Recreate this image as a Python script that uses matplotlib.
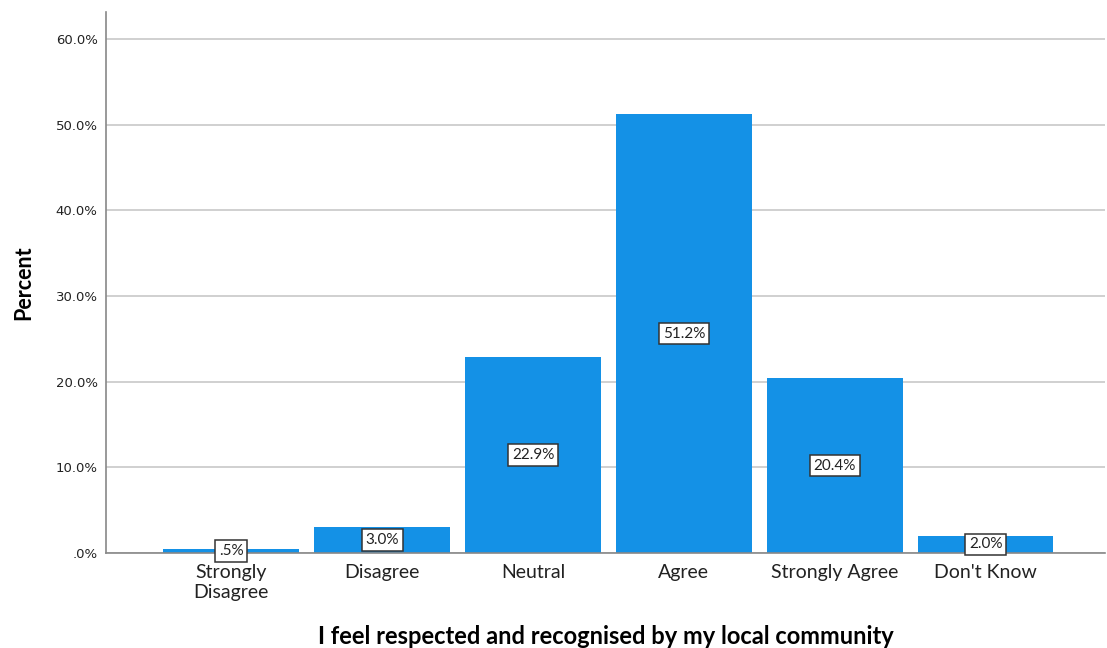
import numpy as np
import matplotlib.pyplot as plt
from matplotlib.ticker import FuncFormatter

categories = ["Strongly\nDisagree", "Disagree", "Neutral", "Agree", "Strongly Agree", "Don't Know"]
percent = [0.5, 3.0, 22.9, 51.2, 20.4, 2.0]
yticks = [0, 10, 20, 30, 40, 50, 60]


def pct_label(v):
    s = "%.1f%%" % v
    return s[1:] if s.startswith("0") else s


fig = plt.figure(figsize=(11.07, 6.48), dpi=100)
ax = fig.add_axes([0.0958, 0.1466, 0.9022, 0.835])

x = np.arange(len(categories))
bars = ax.bar(x, percent, width=0.9, color="#1491e6", zorder=2)

for b, v in zip(bars, percent):
    ax.text(b.get_x() + b.get_width() / 2, v / 2, pct_label(v),
            ha="center", va="center", fontsize=11, family="Lato", color="#222222",
            bbox=dict(boxstyle="square,pad=0.25", fc="white", ec="#333333", lw=1.1),
            zorder=3)

ax.set_xlim(-0.83, 5.79)
ax.set_ylim(0, 63.15)
ax.set_yticks(yticks)
ax.yaxis.set_major_formatter(FuncFormatter(lambda v, p: pct_label(v)))
ax.grid(axis="y", color="#c8c8c8", lw=1.2, zorder=0)
ax.tick_params(axis="y", length=0, labelsize=9.5, pad=6, colors="#222222")
ax.tick_params(axis="x", length=0, pad=8)
ax.set_xticks(x)
ax.set_xticklabels(categories, fontsize=14, family="Lato", color="#222222", linespacing=1.2)

for s in ["top", "right"]:
    ax.spines[s].set_visible(False)
ax.spines["left"].set_color("#888888")
ax.spines["left"].set_linewidth(1.2)
ax.spines["bottom"].set_color("#888888")
ax.spines["bottom"].set_linewidth(1.2)

ax.set_ylabel("Percent", fontsize=15.5, fontweight="bold", family="Lato")
ax.yaxis.set_label_coords(-0.072, 0.5)
ax.set_xlabel("I feel respected and recognised by my local community",
              fontsize=17, fontweight="bold", family="Lato")
ax.xaxis.set_label_coords(0.5, -0.133)

fig.savefig("out.png", dpi=100)
